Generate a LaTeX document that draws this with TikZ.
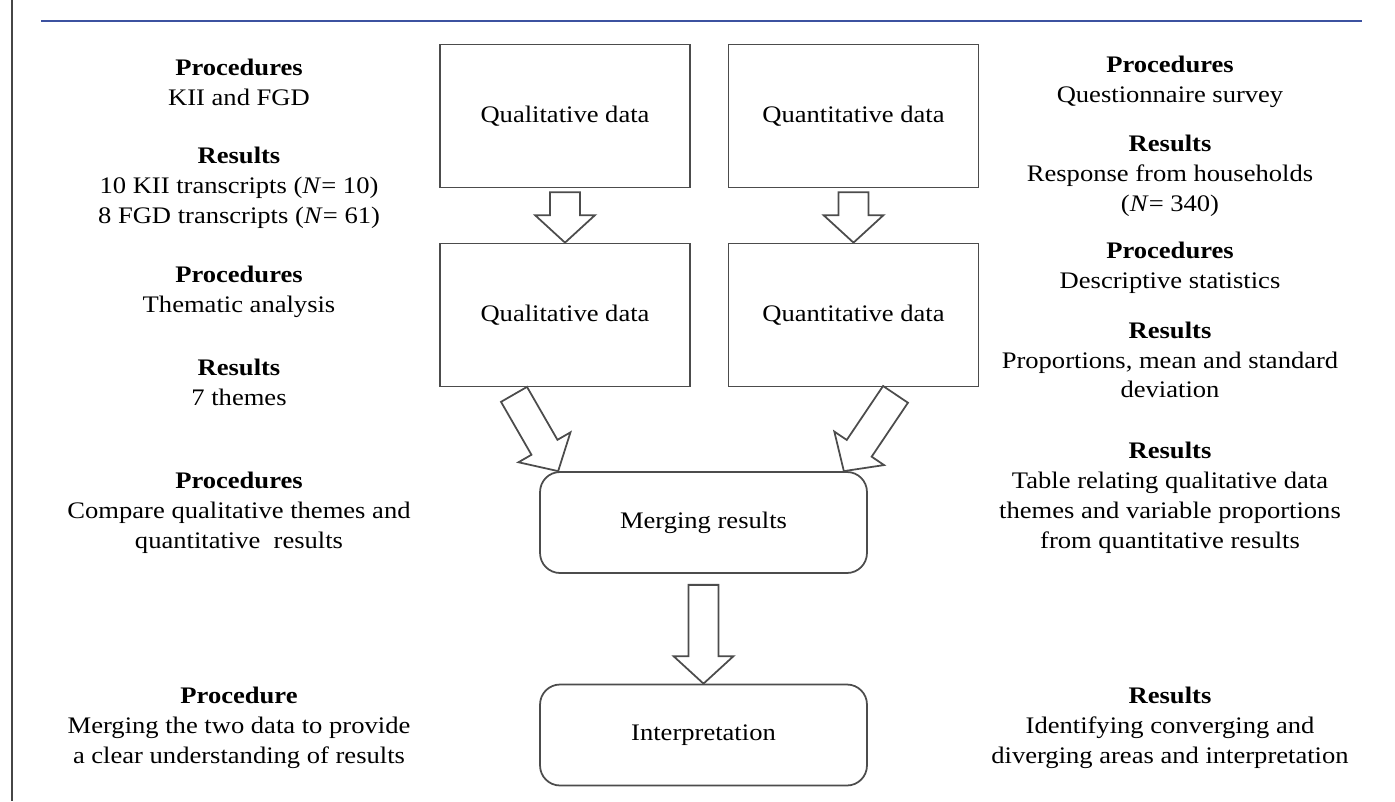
\documentclass[tikz,border=0pt]{standalone}
\usepackage{fontspec}
\setmainfont{Liberation Serif}[FakeStretch=1.12]
\usetikzlibrary{calc}

\definecolor{rulegray}{RGB}{70,70,70}
\definecolor{ruleblue}{RGB}{60,82,160}

% hollow block arrow from #1 to #2
\newcommand{\fatarrow}[2]{%
  \coordinate (fh) at ($(#2)!0.55cm!(#1)$);
  \draw[blockarrow] ($(#1)!0.3cm!90:(#2)$) -- ($(fh)!0.3cm!90:(#2)$)
    -- ($(fh)!0.6cm!90:(#2)$) -- (#2) -- ($(fh)!0.6cm!-90:(#2)$)
    -- ($(fh)!0.3cm!-90:(#2)$) -- ($(#1)!0.3cm!-90:(#2)$) -- cycle;
}

\begin{document}
\begin{tikzpicture}[x=0.02cm,y=-0.02cm,
  txt/.style={font=\fontsize{13.5}{17}\selectfont},
  databox/.style={txt,draw=black!70,line width=1pt,minimum width=5cm,minimum height=2.86cm,inner sep=0pt},
  stepbox/.style={txt,draw=black!70,line width=1pt,rounded corners=0.4cm,minimum width=6.54cm,minimum height=2.02cm,inner sep=0pt},
  note/.style={txt,align=center,inner sep=0pt},
  blockarrow/.style={draw=black!70,fill=white,line width=1pt,line join=miter}]

       \useasboundingbox (0,0) rectangle (1395,801);

       % frame rules
       \draw[rulegray,line width=1.7pt] (12,0) -- (12,801);
       \draw[ruleblue,line width=1.2pt] (41,21) -- (1362,21);

       % boxes
       \node[databox] (qual1) at (565,116) {Qualitative data};
       \node[databox] (quan1) at (853.5,116) {Quantitative data};
       \node[databox] (qual2) at (565,315) {Qualitative data};
       \node[databox] (quan2) at (853.5,315) {Quantitative data};
       \node[stepbox] (merge) at (703.5,522.5) {Merging results};
       \node[stepbox] (interp) at (703.5,735) {Interpretation};

       % arrows
       \coordinate (t1) at ($(qual1.south)+(0,4)$);
       \coordinate (t2) at ($(quan1.south)+(0,4)$);
       \coordinate (t3) at ($(qual2.south)+(-51,7)$);
       \coordinate (t4) at ($(quan2.south)+(42,7)$);
       \coordinate (m3) at ($(merge.north west)+(19,0)$);
       \coordinate (m4) at ($(merge.north east)+(-24,0)$);
       \coordinate (t5) at ($(merge.south)+(0,11)$);
       \fatarrow{t1}{qual2.north}
       \fatarrow{t2}{quan2.north}
       \fatarrow{t3}{m3}
       \fatarrow{t4}{m4}
       \fatarrow{t5}{interp.north}

       % left column
       \node[note] (lp1) at (239,82) {\textbf{Procedures}\\KII and FGD};
       \node[note] (lr1) at (239,187.5) {\textbf{Results}\\10 KII transcripts (\textit{N}= 10)\\8 FGD transcripts (\textit{N}= 61)};
       \node[note] (lp2) at (239,292) {\textbf{Procedures}\\Thematic analysis};
       \node[note] (lr2) at (239,382.5) {\textbf{Results}\\7 themes};
       \node[note] (lp3) at (239,512.5) {\textbf{Procedures}\\Compare qualitative themes and\\quantitative~ results};
       \node[note] (lp4) at (239,728) {\textbf{Procedure}\\Merging the two data to provide\\a clear understanding of results};

       % right column
       \node[note] (rp1) at (1170,81.5) {\textbf{Procedures}\\Questionnaire survey};
       \node[note] (rr1) at (1170,176) {\textbf{Results}\\Response from households\\(\textit{N}= 340)};
       \node[note] (rp2) at (1170,268) {\textbf{Procedures}\\Descriptive statistics};
       \node[note] (rr2) at (1170,360) {\textbf{Results}\\Proportions, mean and standard\\deviation};
       \node[note] (rr3) at (1170,498) {\textbf{Results}\\Table relating qualitative data\\themes and variable proportions\\from quantitative results};
       \node[note] (rr4) at (1170,728) {\textbf{Results}\\Identifying converging and\\diverging areas and interpretation};
     \end{tikzpicture}
\end{document}
